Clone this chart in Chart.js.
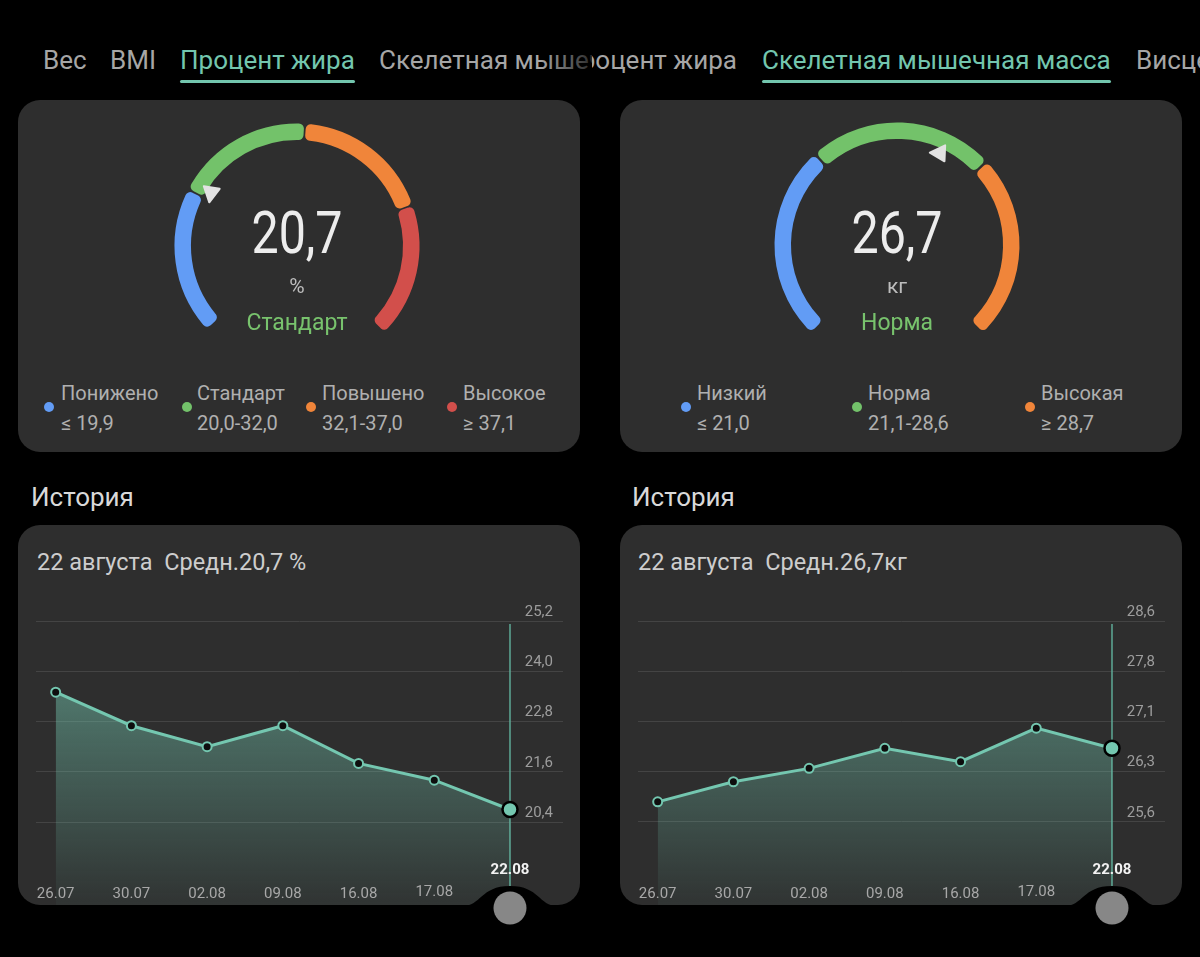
<!DOCTYPE html>
<html>
<head>
<meta charset="utf-8">
<script src="https://cdn.jsdelivr.net/npm/chart.js@4.4.1/dist/chart.umd.min.js"></script>
<style>
  body { margin: 0; background: #000; width: 1200px; height: 957px; overflow: hidden; font-family: Roboto, "Noto Sans", sans-serif; }
  .panel { position: absolute; left: 0; top: 0; width: 1200px; height: 957px; }
  .left { clip-path: inset(0 608px 0 0); }
  .right { clip-path: inset(0 0 0 592px); }
  .tab { position: absolute; top: 45px; font-size: 26px; line-height: 30px; color: #a6a6a6; white-space: nowrap; }
  .tab.on { color: #73c6ae; }
  .tab.on::after { content: ""; position: absolute; left: 0; right: 0; top: 35px; height: 3px; border-radius: 2px; background: #73c6ae; }
  .card { position: absolute; background: #2e2e2e; border-radius: 22px; }
  .big { position: absolute; font-size: 59px; line-height: 60px; color: #ededed; transform: translateX(-50%) scaleX(0.82); white-space: nowrap; }
  .unit { position: absolute; font-size: 21px; line-height: 24px; color: #bdbdbd; transform: translateX(-50%); }
  .state { position: absolute; font-size: 23px; line-height: 26px; color: #78c36d; transform: translateX(-50%); white-space: nowrap; }
  .lg { position: absolute; font-size: 20px; line-height: 30px; color: #b0b0b0; white-space: nowrap; }
  .dot { position: absolute; width: 10px; height: 10px; border-radius: 50%; }
  .hist { position: absolute; font-size: 26px; line-height: 30px; color: #d9d9d9; }
  .head { position: absolute; font-size: 23.5px; line-height: 28px; color: #cdcdcd; white-space: pre; }
  canvas { position: absolute; }
  .fade { position: absolute; left: 540px; top: 40px; width: 52px; height: 40px; background: linear-gradient(to right, rgba(0,0,0,0), rgba(0,0,0,0.75)); }
</style>
</head>
<body>

<div class="panel left">
  <div class="tab" style="left:43px">Вес</div>
  <div class="tab" style="left:110px">BMI</div>
  <div class="tab on" style="left:180px">Процент жира</div>
  <div class="tab" style="left:379px">Скелетная мышечная масса</div>
  <div class="fade"></div>

  <div class="card" style="left:18px;top:100px;width:562px;height:352px"></div>
  <canvas id="fatGauge" width="260" height="260" style="left:167px;top:116px"></canvas>
  <div class="big" style="left:297px;top:203px">20,7</div>
  <div class="unit" style="left:297px;top:274px">%</div>
  <div class="state" style="left:297px;top:310px">Стандарт</div>
  <div id="fatLegend"></div>

  <div class="hist" style="left:31px;top:482px">История</div>
  <div class="card" style="left:18px;top:525px;width:562px;height:380px"></div>
  <div class="head" style="left:37px;top:548px">22 августа  Средн.20,7 %</div>
  <canvas id="fatHistory" width="562" height="405" style="left:18px;top:525px"></canvas>
</div>

<div class="panel right">
  <div class="tab" style="right:463px">Процент жира</div>
  <div class="tab on" style="left:762px">Скелетная мышечная масса</div>
  <div class="tab" style="left:1136px">Висцеральный жир</div>

  <div class="card" style="left:620px;top:100px;width:562px;height:352px"></div>
  <canvas id="muscleGauge" width="260" height="260" style="left:767px;top:115px"></canvas>
  <div class="big" style="left:897px;top:203px">26,7</div>
  <div class="unit" style="left:897px;top:274px">кг</div>
  <div class="state" style="left:897px;top:310px">Норма</div>
  <div id="muscleLegend"></div>

  <div class="hist" style="left:632px;top:482px">История</div>
  <div class="card" style="left:620px;top:525px;width:562px;height:380px"></div>
  <div class="head" style="left:638px;top:548px">22 августа  Средн.26,7кг</div>
  <canvas id="muscleHistory" width="562" height="405" style="left:620px;top:525px"></canvas>
</div>

<script>
// ---- data ----
const bandColors = ["#629cf5", "#73c26a", "#f0853a", "#d24f4b"];

const fatBands = ["Понижено", "Стандарт", "Повышено", "Высокое"];
const fatBandText = ["≤ 19,9", "20,0-32,0", "32,1-37,0", "≥ 37,1"];
const fatBandLow = [null, 20.0, 32.1, 37.1];
const fatBandHigh = [19.9, 32.0, 37.0, null];
const fatArcDeg = [70.5, 66.3, 66.7, 64.4];
const fatValue = 20.7;

const muscleBands = ["Низкий", "Норма", "Высокая"];
const muscleBandText = ["≤ 21,0", "21,1-28,6", "≥ 28,7"];
const muscleBandLow = [null, 21.1, 28.7];
const muscleBandHigh = [21.0, 28.6, null];
const muscleArcDeg = [94, 89, 89];
const muscleValue = 26.7;

const dates = ["26.07", "30.07", "02.08", "09.08", "16.08", "17.08", "22.08"];
const fatHistory = [23.5, 22.7, 22.2, 22.7, 21.8, 21.4, 20.7];
const muscleHistory = [25.9, 26.2, 26.4, 26.7, 26.5, 27.0, 26.7];

const fatTicks = [20.4, 21.6, 22.8, 24.0, 25.2];
const fatTickText = ["20,4", "21,6", "22,8", "24,0", "25,2"];
const muscleTicks = [25.6, 26.35, 27.1, 27.85, 28.6];
const muscleTickText = ["25,6", "26,3", "27,1", "27,8", "28,6"];

const teal = "#74c7b0";

// ---- legends (html) ----
function legend(id, names, texts, dotX, textX) {
  const box = document.getElementById(id);
  names.forEach((n, i) => {
    const d = document.createElement("div");
    d.className = "dot";
    d.style.left = (dotX[i] - 5) + "px";
    d.style.top = "402px";
    d.style.background = bandColors[i];
    box.appendChild(d);
    const t = document.createElement("div");
    t.className = "lg";
    t.style.left = textX[i] + "px";
    t.style.top = "378px";
    t.innerHTML = n + "<br>" + texts[i];
    box.appendChild(t);
  });
}
legend("fatLegend", fatBands, fatBandText, [49, 187, 311, 452], [61, 197, 322, 463]);
legend("muscleLegend", muscleBands, muscleBandText, [686, 857, 1030], [697, 868, 1041]);

// ---- gauges ----
const gaugePointer = {
  id: "gaugePointer",
  afterDatasetsDraw(chart, args, opts) {
    const arcs = chart.getDatasetMeta(0).data;
    const v = opts.value;
    const i = opts.high.findIndex((h, k) => (opts.low[k] === null || v >= opts.low[k]) && (h === null || v <= h));
    const arc = arcs[i];
    const frac = (v - opts.low[i]) / (opts.high[i] - opts.low[i]);
    const a = arc.startAngle + frac * (arc.endAngle - arc.startAngle);
    const R = 101;
    const px = arc.x + R * Math.cos(a), py = arc.y + R * Math.sin(a);
    // triangle tip points back along the arc, tilted a little inwards
    const d = a - 112 * Math.PI / 180;
    const tx = Math.cos(d), ty = Math.sin(d);
    const nx = -ty, ny = tx;
    const ctx = chart.ctx;
    ctx.save();
    ctx.fillStyle = "#e2e2e2";
    ctx.strokeStyle = "#e2e2e2";
    ctx.lineWidth = 2;
    ctx.lineJoin = "round";
    ctx.beginPath();
    ctx.moveTo(px + 9 * tx, py + 9 * ty);
    ctx.lineTo(px - 6 * tx + 8 * nx, py - 6 * ty + 8 * ny);
    ctx.lineTo(px - 6 * tx - 8 * nx, py - 6 * ty - 8 * ny);
    ctx.closePath();
    ctx.fill();
    ctx.stroke();
    ctx.restore();
  }
};

function gauge(id, arcDeg, rotation, value, low, high) {
  const used = arcDeg.reduce((s, d) => s + d, 0);
  new Chart(document.getElementById(id), {
    type: "doughnut",
    data: {
      labels: arcDeg.map((d, i) => "s" + i).concat(["gap"]),
      datasets: [{
        data: arcDeg.concat([360 - used]),
        backgroundColor: bandColors.slice(0, arcDeg.length).concat(["rgba(0,0,0,0)"]),
        borderWidth: 0,
        borderRadius: 5,
        spacing: 3
      }]
    },
    options: {
      responsive: false,
      animation: false,
      events: [],
      rotation: rotation,
      circumference: 360,
      radius: 121,
      cutout: 111,
      plugins: {
        legend: { display: false },
        tooltip: { enabled: false },
        gaugePointer: { value: value, low: low, high: high }
      }
    },
    plugins: [gaugePointer]
  });
}
gauge("fatGauge", fatArcDeg, 227, fatValue, fatBandLow, fatBandHigh);
gauge("muscleGauge", muscleArcDeg, 224, muscleValue, muscleBandLow, muscleBandHigh);

// ---- history charts ----
const historyDecor = {
  id: "historyDecor",
  beforeDatasetsDraw(chart, args, opts) {
    const { ctx, chartArea, scales: { x } } = chart;
    const px = x.getPixelForValue(opts.selected);
    ctx.save();
    ctx.strokeStyle = "#5eaa97";
    ctx.lineWidth = 1.5;
    ctx.beginPath();
    ctx.moveTo(px, chartArea.top + 3);
    ctx.lineTo(px, chartArea.bottom);
    ctx.stroke();
    ctx.restore();
  },
  afterDatasetsDraw(chart, args, opts) {
    const { ctx, chartArea, scales: { x } } = chart;
    const bottom = chartArea.bottom;
    const cx = x.getPixelForValue(opts.selected);
    ctx.save();
    // notch in the card bottom round the scrubber
    ctx.fillStyle = "#000";
    ctx.beginPath();
    ctx.moveTo(cx - 48, bottom + 1);
    ctx.bezierCurveTo(cx - 28, bottom + 1, cx - 30, bottom - 19, cx, bottom - 19);
    ctx.bezierCurveTo(cx + 30, bottom - 19, cx + 28, bottom + 1, cx + 48, bottom + 1);
    ctx.lineTo(cx + 48, chart.height);
    ctx.lineTo(cx - 48, chart.height);
    ctx.closePath();
    ctx.fill();
    ctx.fillStyle = "#878787";
    ctx.beginPath();
    ctx.arc(cx, bottom + 3, 16.5, 0, Math.PI * 2);
    ctx.fill();
    // date labels
    ctx.textAlign = "center";
    ctx.textBaseline = "middle";
    opts.labels.forEach((lab, i) => {
      const lx = x.getPixelForValue(i);
      if (i === opts.selected) {
        ctx.font = "bold 15px Roboto, sans-serif";
        ctx.fillStyle = "#f2f2f2";
        ctx.fillText(lab, lx, bottom - 35);
      } else {
        ctx.font = "15px Roboto, sans-serif";
        ctx.fillStyle = "#a8a8a8";
        ctx.fillText(lab, lx, bottom - (i === opts.selected - 1 ? 13 : 11));
      }
    });
    ctx.restore();
  }
};

function history(id, values, yMin, yMax, tickVals, tickText) {
  const last = values.length - 1;
  new Chart(document.getElementById(id), {
    type: "line",
    data: {
      datasets: [{
        data: values.map((v, i) => ({ x: i, y: v })),
        borderColor: teal,
        borderWidth: 3,
        tension: 0,
        fill: "start",
        backgroundColor: (c) => {
          const area = c.chart.chartArea;
          if (!area) return "rgba(116,199,176,0.3)";
          const g = c.chart.ctx.createLinearGradient(0, area.top, 0, area.bottom);
          g.addColorStop(0, "rgba(116,199,176,0.62)");
          g.addColorStop(1, "rgba(116,199,176,0.04)");
          return g;
        },
        pointRadius: (c) => (c.dataIndex === last ? 7.5 : 4.5),
        pointBorderWidth: (c) => (c.dataIndex === last ? 2.5 : 2),
        pointBackgroundColor: (c) => (c.dataIndex === last ? teal : "#0e0e0e"),
        pointBorderColor: (c) => (c.dataIndex === last ? "#000" : teal),
        clip: false
      }]
    },
    options: {
      responsive: false,
      animation: false,
      events: [],
      layout: { padding: { left: 18, right: 17, top: 96, bottom: 25 } },
      scales: {
        x: { type: "linear", min: -0.26, max: 6.7, display: false },
        y: {
          position: "right",
          min: yMin,
          max: yMax,
          afterBuildTicks: (s) => { s.ticks = tickVals.map((v) => ({ value: v })); },
          afterFit: (s) => { s.width = 0; },
          grid: { color: "#444444", lineWidth: 1, drawTicks: false },
          border: { display: false },
          ticks: {
            mirror: true,
            padding: -10,
            labelOffset: -9,
            color: "#9d9d9d",
            font: { size: 15, family: "Roboto" },
            callback: (v, i) => tickText[i]
          }
        }
      },
      plugins: {
        legend: { display: false },
        tooltip: { enabled: false },
        historyDecor: { selected: last, labels: dates }
      }
    },
    plugins: [historyDecor]
  });
}
history("fatHistory", fatHistory, 18.42, 25.2, fatTicks, fatTickText);
history("muscleHistory", muscleHistory, 24.36, 28.6, muscleTicks, muscleTickText);
</script>
</body>
</html>
